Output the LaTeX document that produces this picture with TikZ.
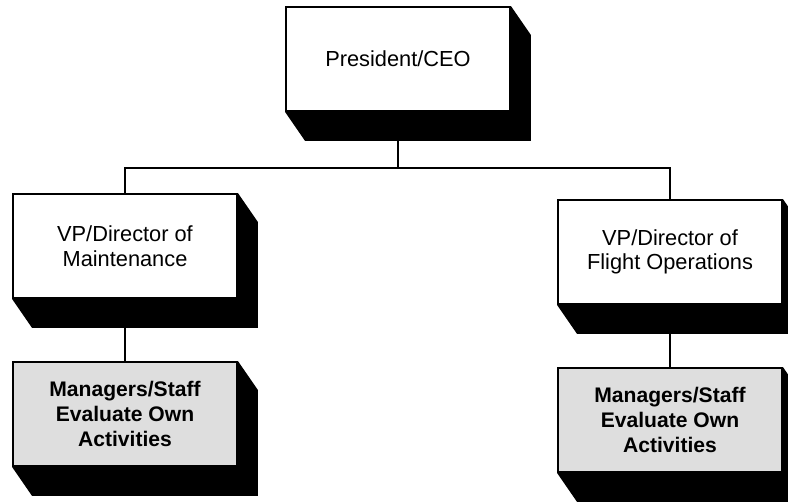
\documentclass[tikz,border=0pt]{standalone}
\usepackage{fontspec}
\setmainfont{Liberation Sans}
\usetikzlibrary{positioning}

\tikzset{
  orgbox/.style={draw,line width=1.3pt,fill=white,minimum width=5.6cm,minimum height=2.6cm,
    align=center,font=\fontsize{15.5}{17.5}\selectfont},
  staffbox/.style={orgbox,fill=black!13,font=\fontsize{15}{17.5}\selectfont\bfseries},
  link/.style={line width=1.6pt}
}
% block shadow down-right of a box
\newcommand{\boxshade}[1]{%
  \fill (#1.north east) -- ++(20,29) |- ([shift={(20,29)}]#1.south west)
    -- (#1.south west) -- (#1.south east) -- cycle;}

\begin{document}
\begin{tikzpicture}[x=0.025cm,y=-0.025cm]
	\useasboundingbox (0,0) rectangle (788,502);
	\node[orgbox] (ceo) at (398,59) {President/CEO};
	\node[orgbox] (maint) at (125,246) {VP/Director of\\Maintenance};
	\node[orgbox] (flight) at (670,252) {VP/Director of\\Flight Operations};
	\node[staffbox] (staffL) at (125,414) {Managers/Staff\\Evaluate Own\\Activities};
	\node[staffbox] (staffR) at (670,420) {Managers/Staff\\Evaluate Own\\Activities};
	\coordinate (bar) at (398,168);
	\boxshade{ceo}
	\boxshade{maint}
	\boxshade{flight}
	\boxshade{staffL}
	\boxshade{staffR}
	\draw[link] (ceo.south) -- (bar);
	\draw[link] (maint.north) |- (bar) -| (flight.north);
	\draw[link] (maint.south) -- (staffL.north);
	\draw[link] (flight.south) -- (staffR.north);
\end{tikzpicture}
\end{document}
